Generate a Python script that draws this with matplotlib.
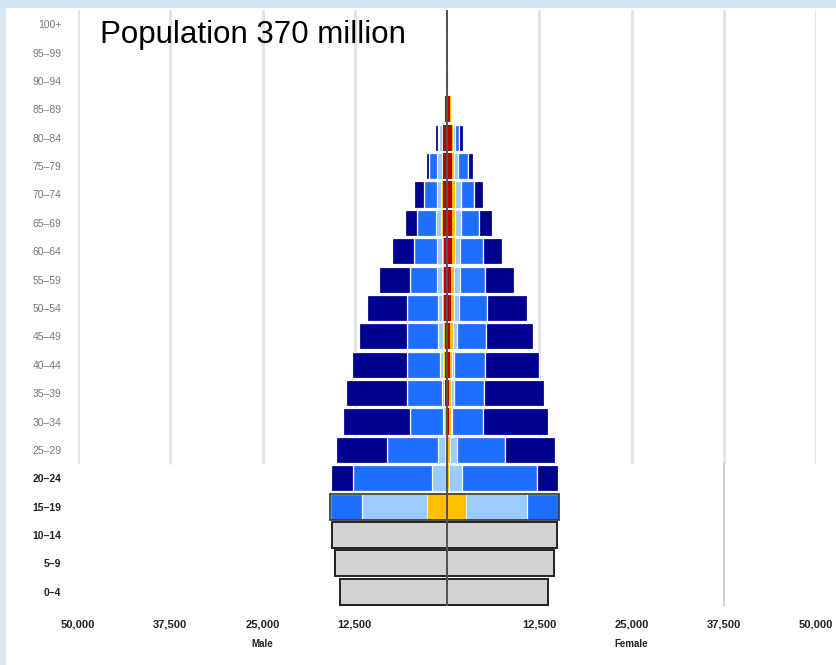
import matplotlib
matplotlib.use("Agg")
import matplotlib.pyplot as plt
from matplotlib.patches import Rectangle
import numpy as np

plt.rcParams['font.family'] = ['Liberation Sans', 'DejaVu Sans']

# Age groups, bottom to top
ages = ["0–4", "5–9", "10–14", "15–19", "20–24", "25–29", "30–34", "35–39",
        "40–44", "45–49", "50–54", "55–59", "60–64", "65–69", "70–74",
        "75–79", "80–84", "85–89", "90–94", "95–99", "100+"]

# Persons per layer, listed from the centre outward (red, yellow, light blue, blue, navy)
male_red = [0, 0, 0, 0, 0, 135, 135, 270, 270, 270, 405, 405, 405, 540, 540, 540, 540, 270, 70, 0, 0]
male_yellow = [0, 0, 0, 2710, 135, 135, 270, 135, 270, 270, 270, 270, 270, 270, 270, 135, 135, 135, 40, 0, 0]
male_lightblue = [0, 0, 0, 8800, 1900, 950, 135, 270, 405, 680, 540, 680, 680, 680, 540, 680, 405, 135, 55, 0, 0]
male_blue = [0, 0, 0, 4330, 10700, 6900, 4470, 4740, 4470, 4200, 4200, 3650, 3120, 2570, 1760, 1080, 135, 0, 0, 0, 0]
male_navy = [0, 0, 0, 0, 2980, 6900, 9070, 8260, 7450, 6500, 5420, 4200, 2980, 1620, 1350, 405, 405, 135, 70, 60, 30]
male_gray = [14490, 15170, 15570, 0, 0, 0, 0, 0, 0, 0, 0, 0, 0, 0, 0, 0, 0, 0, 0, 0, 0]

female_red = [0, 0, 0, 0, 0, 135, 270, 270, 405, 405, 540, 540, 680, 680, 680, 680, 680, 405, 95, 0, 0]
female_yellow = [0, 0, 0, 2570, 270, 270, 270, 270, 270, 405, 405, 405, 405, 405, 405, 270, 135, 135, 55, 0, 0]
female_lightblue = [0, 0, 0, 8260, 1760, 950, 135, 405, 270, 540, 680, 810, 680, 810, 810, 540, 270, 135, 70, 0, 0]
female_blue = [0, 0, 0, 4330, 10160, 6500, 4200, 4060, 4200, 3930, 3790, 3390, 3120, 2440, 1760, 1350, 540, 135, 55, 0, 0]
female_navy = [0, 0, 0, 0, 2840, 6770, 8800, 8120, 7310, 6370, 5420, 3930, 2570, 1760, 1220, 680, 540, 135, 70, 60, 30]
female_gray = [13680, 14490, 14900, 0, 0, 0, 0, 0, 0, 0, 0, 0, 0, 0, 0, 0, 0, 0, 0, 0, 0]

tick_values = [-50000, -37500, -25000, -12500, 0, 12500, 25000, 37500, 50000]
tick_labels = ["50,000", "37,500", "25,000", "12,500", "", "12,500", "25,000", "37,500", "50,000"]
title = "Population 370 million"

colors = ["#B80000", "#FFC000", "#9CCBFF", "#1E6FFF", "#00008F"]
edge_widths = [0, 0, 0.5, 0.9, 0.9]

W, H = 836, 665
fig = plt.figure(figsize=(W / 100, H / 100), dpi=100)
fig.patch.set_facecolor("#d4e6f4")
# white page over the tinted border
fig.add_artist(Rectangle((6 / W, 0), 1, 1 - 8 / H, transform=fig.transFigure,
                         facecolor="white", edgecolor="none", zorder=0))

ax = fig.add_axes([78 / W, 59 / H, 738 / W, 596 / H])
ax.set_facecolor("none")
ax.set_xlim(-50000, 50000)
ax.set_ylim(-0.5, 20.5)
for s in ax.spines.values():
    s.set_visible(False)

y = np.arange(len(ages))
h = 0.92

# soft grid lines in the upper part of the chart
for xv in tick_values:
    if xv == 0:
        continue
    ax.plot([xv, xv], [4.5, 20.55], color="#e4e4e4", lw=2.2, zorder=0.5, solid_capstyle="butt")
    ax.plot([xv, xv], [-0.62, -0.5], color="#bdbdbd", lw=1, zorder=0.5)
ax.plot([37500, 37500], [-0.5, 4.5], color="#c8c8c8", lw=1.2, zorder=0.5)

male_layers = [male_red, male_yellow, male_lightblue, male_blue, male_navy]
female_layers = [female_red, female_yellow, female_lightblue, female_blue, female_navy]

for sign, layers in ((-1, male_layers), (1, female_layers)):
    cum = np.zeros(len(ages))
    for vals, c, ew in zip(layers, colors, edge_widths):
        v = np.array(vals, dtype=float)
        ax.barh(y, sign * v, left=sign * cum, height=h, color=c,
                edgecolor="white", linewidth=ew, zorder=2)
        cum += v
    # dark outline around the 15–19 bar
    i = 3
    ax.barh(y[i], sign * cum[i], height=h, facecolor="none",
            edgecolor="#333333", linewidth=1.2, zorder=3)

# youngest groups in grey with dark outlines
ax.barh(y, -np.array(male_gray), height=h, color="#d3d3d3",
        edgecolor="#222222", linewidth=1.4, zorder=2)
ax.barh(y, np.array(female_gray), height=h, color="#d3d3d3",
        edgecolor="#222222", linewidth=1.4, zorder=2)

# centre axis
ax.axvline(0, color="#555555", lw=1.4, zorder=4)

ax.set_yticks(y)
ax.set_yticklabels(ages, fontsize=7.5)
for i, lab in enumerate(ax.get_yticklabels()):
    lab.set_color("#222222" if i <= 4 else "#777777")
    if i <= 4:
        lab.set_fontweight("bold")
ax.tick_params(axis="y", length=0, pad=12)

ax.set_xticks(tick_values)
ax.set_xticklabels(tick_labels, fontsize=8, fontweight="bold", color="#222222")
ax.tick_params(axis="x", length=0, pad=10)

ax.text(-25000, -1.85, "Male", ha="center", va="center", fontsize=7,
        fontweight="bold", color="#222222")
ax.text(25000, -1.85, "Female", ha="center", va="center", fontsize=7,
        fontweight="bold", color="#222222")

fig.text(100 / W, 1 - 35 / H, title, fontsize=22.5, ha="left", va="center", color="black")

fig.savefig("out.png", dpi=100, facecolor=fig.get_facecolor())
